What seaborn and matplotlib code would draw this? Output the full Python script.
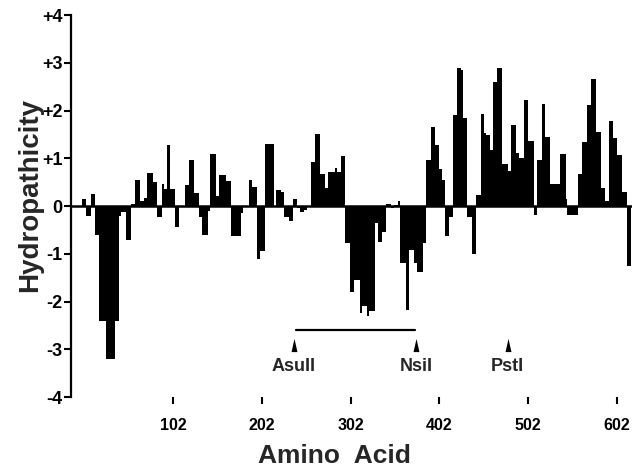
import matplotlib
matplotlib.use("Agg")
import matplotlib.pyplot as plt
import seaborn as sns
import numpy as np

# hydropathy windows: first residue of each window and its mean value
window_start = [-1, 4, 9, 14, 19, 26, 37, 41, 43, 49,
                55, 59, 65, 69, 73, 79, 84, 89, 92, 95,
                99, 104, 109, 115, 120, 125, 131, 135, 141, 144,
                150, 154, 162, 167, 178, 181, 187, 191, 197, 200,
                206, 216, 218, 223, 227, 233, 237, 242, 245, 249,
                253, 257, 262, 267, 273, 277, 284, 287, 291, 296,
                301, 306, 312, 315, 320, 323, 329, 333, 337, 342,
                347, 351, 355, 358, 364, 368, 373, 377, 383, 387,
                392, 397, 402, 405, 408, 413, 417, 422, 426, 429,
                433, 439, 443, 449, 452, 455, 459, 462, 467, 472,
                479, 483, 488, 492, 497, 502, 509, 512, 517, 521,
                527, 538, 544, 546, 558, 563, 568, 573, 578, 584,
                589, 593, 598, 602, 608, 613]
hydropathy = [0.15, -0.2, 0.25, -0.6, -2.4, -3.2, -2.4, -0.2, -0.12, -0.72,
              0.05, 0.55, 0.1, 0.17, 0.7, 0.5, -0.22, 0.47, 0.35, 1.27,
              0.35, -0.43, 0.0, 0.45, 0.96, 0.28, -0.22, -0.6, -0.1, 1.08,
              0.2, 0.64, 0.52, -0.62, -0.15, 0.0, 0.55, 0.4, -1.1, -0.95,
              1.29, 0.0, 0.33, 0.3, -0.22, -0.31, 0.15, -0.05, -0.12, -0.08,
              0.0, 0.93, 1.5, 0.66, 0.37, 0.72, 0.8, 0.72, 1.05, -0.78,
              -1.8, -1.55, -2.25, -2.1, -2.3, -2.2, -0.36, -0.75, -0.55, 0.05,
              -0.05, 0.03, 0.1, -1.2, -2.17, -0.92, -1.2, -1.38, -0.78, 0.97,
              1.65, 1.28, 0.78, 0.55, -0.62, -0.24, 1.9, 2.9, 2.85, 1.84,
              -0.22, -1.0, 0.23, 1.92, 1.53, 1.48, 1.17, 2.6, 2.9, 0.88,
              0.73, 1.7, 1.12, 1.01, 2.23, 1.36, -0.19, 0.96, 2.14, 1.45,
              0.47, 1.08, 0.15, -0.19, 0.67, 1.35, 2.12, 2.66, 1.55, 0.37,
              0.1, 1.79, 1.42, 1.07, 0.3, -1.25]
last_residue = 618

x_ticks = [102, 202, 302, 402, 502, 602]
y_ticks = [4, 3, 2, 1, 0, -1, -2, -3, -4]
y_labels = ["+4", "+3", "+2", "+1", "0", "-1", "-2", "-3", "-4"]

site_names = ["AsuII", "NsiI", "PstI"]
site_pos = [238, 376, 479]
fragment = [240, 375]

sns.set_style("white")
plt.rcParams["font.family"] = ["Liberation Sans", "DejaVu Sans"]
plt.rcParams["font.weight"] = "bold"

fig = plt.figure(figsize=(6.34, 4.69), dpi=100)
ax = fig.add_axes([0.112, 0.1535, 0.885, 0.8145])

edges = window_start + [last_residue]
sns.histplot(x=window_start, weights=hydropathy, bins=edges, color="black",
             alpha=1, linewidth=0, ax=ax)
ax.axhline(0, color="black", lw=1.8, zorder=3)

ax.set_xlim(-13, 619)
ax.set_ylim(-4, 4)
for s in ["top", "right", "bottom"]:
    ax.spines[s].set_visible(False)
ax.spines["left"].set_linewidth(1.6)
ax.spines["left"].set_color("black")

ax.set_xticks(x_ticks)
ax.set_xticklabels([str(t) for t in x_ticks], fontsize=11.5, fontweight="bold")
ax.set_yticks(y_ticks)
ax.set_yticklabels(y_labels, fontsize=13, fontweight="bold")
ax.tick_params(axis="x", bottom=True, direction="out", length=5, width=1.5,
               pad=10, colors="black")
ax.tick_params(axis="y", left=True, direction="out", length=5, width=1.5,
               pad=1, colors="black")

ax.set_xlabel("Amino  Acid", fontsize=19, fontweight="bold")
ax.xaxis.set_label_coords(0.47, -0.122)
ax.set_ylabel("Hydropathicity", fontsize=20, fontweight="bold")
ax.yaxis.set_label_coords(-0.05, 0.53)

# restriction sites
tri = [(-0.45, -1.0), (0.45, -1.0), (0.0, 1.0), (-0.45, -1.0)]
ax.plot(fragment, [-2.6, -2.6], color="black", lw=1.6)
ax.scatter(site_pos, [-2.92] * len(site_pos), marker=tri, s=90, color="black",
           linewidths=0, zorder=4)
for name, p in zip(site_names, site_pos):
    ax.text(p, -3.37, name, ha="center", va="center", fontsize=13, fontweight="bold")

fig.savefig("out.png", dpi=100)
